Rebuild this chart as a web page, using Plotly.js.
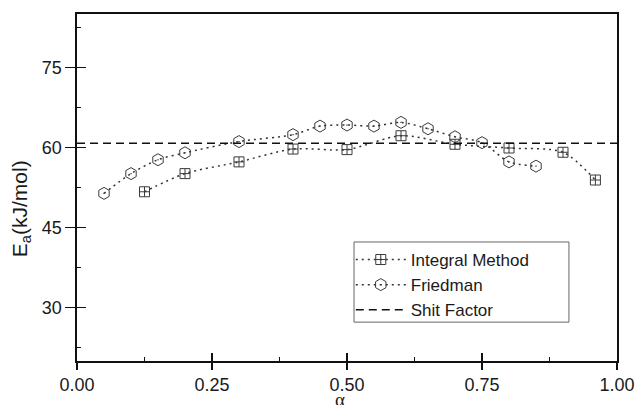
<!DOCTYPE html>
<html>
<head>
<meta charset="utf-8">
<script src="https://cdn.plot.ly/plotly-3.0.1.min.js"></script>
<style>html,body{margin:0;padding:0;background:#fff;}#chart{width:637px;height:405px;}</style>
</head>
<body>
<div id="chart"></div>
<script>
// Data
const alphaIntegral = [0.125, 0.2, 0.3, 0.4, 0.5, 0.6, 0.7, 0.8, 0.9, 0.96];
const eaIntegral = [51.7, 55.1, 57.3, 59.7, 59.6, 62.2, 60.6, 59.9, 59.1, 53.9];
const alphaFriedman = [0.05, 0.1, 0.15, 0.2, 0.3, 0.4, 0.45, 0.5, 0.55, 0.6, 0.65, 0.7, 0.75, 0.8, 0.85];
const eaFriedman = [51.4, 55.1, 57.7, 59.0, 61.1, 62.4, 64.0, 64.2, 64.0, 64.7, 63.5, 62.0, 60.9, 57.3, 56.5];
const alphaShift = [0, 1];
const eaShift = [60.8, 60.8];
const seriesNames = ["Integral Method", "Friedman", "Shit Factor"];
const xTickVals = [0, 0.25, 0.5, 0.75, 1.0];
const xTickText = ["0.00", "0.25", "0.50", "0.75", "1.00"];
const xMinorVals = [0.125, 0.375, 0.625, 0.875];
const yTickVals = [30, 45, 60, 75];
const yMinorVals = [22.5, 37.5, 52.5, 67.5, 82.5];
const xTitle = "α";
const yTitle = "E<sub>a</sub>(kJ/mol)";

const sans = "Liberation Sans, Arial, sans-serif";
const textColor = "#1a1a1a";
const markerColor = "#3a3a3a";
const traces = [
  {
    x: alphaIntegral, y: eaIntegral, name: seriesNames[0], type: "scatter", mode: "lines+markers",
    line: {color: "#333", width: 1.5, dash: "2px,4px", shape: "spline", smoothing: 0.8},
    marker: {symbol: "square-cross-open", size: 10, color: markerColor, line: {width: 1, color: markerColor}},
    legendgroup: "a"
  },
  {
    x: alphaFriedman, y: eaFriedman, name: seriesNames[1], type: "scatter", mode: "lines+markers",
    line: {color: "#333", width: 1.5, dash: "2px,4px", shape: "spline", smoothing: 0.8},
    marker: {symbol: "hexagon-open-dot", size: 12, color: markerColor, line: {width: 1, color: markerColor}},
    legendgroup: "b"
  },
  {
    x: alphaShift, y: eaShift, name: seriesNames[2], type: "scatter", mode: "lines",
    line: {color: "#111", width: 1.6, dash: "8px,5px"},
    legendgroup: "c"
  },
  {
    x: alphaShift, y: eaShift, xaxis: "x2", yaxis: "y2", type: "scatter", mode: "lines",
    opacity: 0, showlegend: false, hoverinfo: "skip"
  }
];

const tickFont = {family: sans, size: 18, color: textColor};
const layout = {
  width: 637, height: 405,
  margin: {l: 77, r: 20, t: 14, b: 44},
  paper_bgcolor: "#fff", plot_bgcolor: "#fff",
  showlegend: true,
  xaxis: {
    range: [0, 1], showgrid: false, zeroline: false,
    showline: true, linecolor: "#111", linewidth: 1.6, mirror: true,
    ticks: "outside", ticklen: 7, tickwidth: 1.5, tickcolor: "#111",
    tickvals: xTickVals, ticktext: xTickText, tickfont: tickFont,
    minor: {tickvals: xMinorVals, ticks: "inside", ticklen: 4, tickwidth: 1.3, tickcolor: "#111", showgrid: false}
  },
  yaxis: {
    range: [20, 85], showgrid: false, zeroline: false,
    showline: true, linecolor: "#111", linewidth: 1.6, mirror: true,
    ticks: "outside", ticklen: 10, tickwidth: 1.5, tickcolor: "#111",
    tickvals: yTickVals, tickfont: tickFont,
    minor: {tickvals: yMinorVals, ticks: "inside", ticklen: 4, tickwidth: 1.3, tickcolor: "#111", showgrid: false}
  },
  xaxis2: {
    overlaying: "x", anchor: "y2", side: "bottom", range: [0, 1],
    showgrid: false, zeroline: false, showline: false, showticklabels: false,
    ticks: "inside", ticklen: 8, tickwidth: 1.5, tickcolor: "#111", tickvals: xTickVals
  },
  yaxis2: {
    overlaying: "y", anchor: "x2", side: "left", range: [20, 85],
    showgrid: false, zeroline: false, showline: false, showticklabels: false,
    ticks: "inside", ticklen: 9, tickwidth: 1.5, tickcolor: "#111", tickvals: yTickVals
  },
  annotations: [
    {text: yTitle, xref: "paper", yref: "paper", x: -0.104, y: 0.44, xanchor: "center", yanchor: "middle",
     textangle: -90, showarrow: false, font: {family: sans, size: 21, color: textColor}},
    {text: xTitle, xref: "paper", yref: "paper", x: 0.487, y: -0.11, xanchor: "center", yanchor: "middle",
     showarrow: false, font: {family: "Liberation Serif, Times New Roman, serif", size: 19, color: textColor}}
  ],
  shapes: [
    {type: "rect", xref: "paper", yref: "paper", x0: 0.513, x1: 0.911, y0: 0.112, y1: 0.343,
     line: {color: "#666", width: 1}, fillcolor: "#fff", layer: "above"}
  ],
  legend: {
    x: 0.507, y: 0.343, xanchor: "left", yanchor: "top",
    bgcolor: "rgba(0,0,0,0)", borderwidth: 0,
    font: {family: sans, size: 17, color: textColor},
    itemwidth: 50, traceorder: "grouped", tracegroupgap: 0
  }
};

Plotly.newPlot("chart", traces, layout, {displayModeBar: false, staticPlot: true});
</script>
</body>
</html>
